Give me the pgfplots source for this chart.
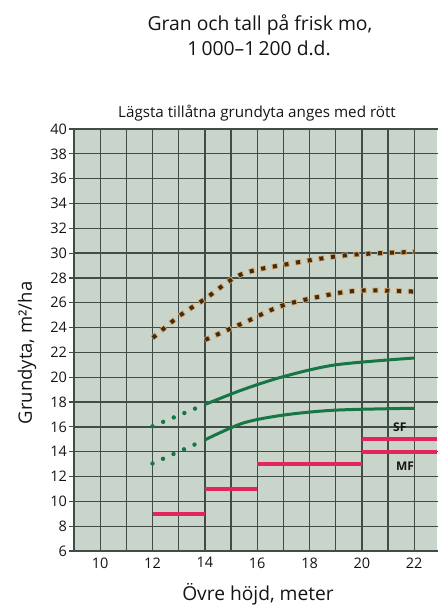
\documentclass[border=0pt]{standalone}
\usepackage{pgfplots}
\pgfplotsset{compat=1.18}
\usepackage{fontspec}
\setmainfont{Open Sans}
\setsansfont{Open Sans}
\definecolor{bg}{RGB}{201,212,203}
\definecolor{gridc}{RGB}{66,76,71}
\definecolor{dbrown}{RGB}{70,42,15}
\definecolor{tan}{RGB}{210,168,108}
\definecolor{grn}{RGB}{22,118,68}
\definecolor{rd}{RGB}{226,38,92}
\definecolor{txt}{RGB}{20,20,20}
\pgfplotstableread{
x y
12 23.15
13 24.9
14 26.3
15.4 28.3
17.4 29.2
19.5 29.85
22 30.1
}\upperbrown
\pgfplotstableread{
x y
14 23.0
15.5 24.4
17 25.8
19 26.75
20.2 27.0
22 26.9
}\lowerbrown
\pgfplotstableread{
x y
14 17.8
15.45 19.0
17 20.05
19 21.0
22 21.55
}\uppergreen
\pgfplotstableread{
x y
12 16.05
14 17.8
}\uppergreendot
\pgfplotstableread{
x y
14 14.95
15.45 16.3
17 16.95
19 17.35
22 17.5
}\lowergreen
\pgfplotstableread{
x y
12 13.05
14 14.95
}\lowergreendot
\begin{document}
\begin{tikzpicture}[x=1pt,y=1pt]
\useasboundingbox (0,0) rectangle (437,608);
\begin{axis}[
  at={(74pt,57pt)}, anchor=south west,
  width=363pt, height=422pt, scale only axis,
  xmin=9, xmax=22.87, ymin=6, ymax=40,
  axis background/.style={fill=bg},
  axis line style={draw=none},
  xtick={9,10,...,22},
  xticklabels={,10,,12,,14,,16,,18,,20,,22},
  ytick={6,8,...,40},
  grid=major,
  major grid style={draw=gridc, line width=1.3pt},
  xtick style={draw=none},
  ytick style={draw=gridc, line width=1.2pt},
  ytick align=outside, major tick length=5pt,
  tick label style={font=\fontsize{14.5}{16}\selectfont, text=txt},
  /pgf/number format/assume math mode=true,
  xticklabel style={yshift=-3pt},
  yticklabel style={xshift=1.5pt},
  clip=false,
]
\addplot[draw=tan, line width=5.4pt, dash pattern=on 6pt off 5.8pt, dash phase=0.5pt, smooth] table[x=x,y=y] {\upperbrown};
\addplot[draw=dbrown, line width=4pt, dash pattern=on 4pt off 7.8pt, dash phase=-0.5pt, smooth] table[x=x,y=y] {\upperbrown};
\addplot[draw=tan, line width=5.4pt, dash pattern=on 6pt off 5.8pt, dash phase=0.5pt, smooth] table[x=x,y=y] {\lowerbrown};
\addplot[draw=dbrown, line width=4pt, dash pattern=on 4pt off 7.8pt, dash phase=-0.5pt, smooth] table[x=x,y=y] {\lowerbrown};
\addplot[draw=grn, line width=3pt, smooth] table[x=x,y=y] {\uppergreen};
\addplot[draw=grn, line width=4.4pt, line cap=round, dash pattern=on 0pt off 11.5pt] table[x=x,y=y] {\uppergreendot};
\addplot[draw=grn, line width=3pt, smooth] table[x=x,y=y] {\lowergreen};
\addplot[draw=grn, line width=4.4pt, line cap=round, dash pattern=on 0pt off 11.5pt] table[x=x,y=y] {\lowergreendot};
\addplot[draw=rd, line width=4pt] coordinates {(12,9) (14,9)};
\addplot[draw=rd, line width=4pt] coordinates {(14,11) (16,11)};
\addplot[draw=rd, line width=4pt] coordinates {(16,13) (20,13)};
\addplot[draw=rd, line width=4pt] coordinates {(20,15) (22.87,15)};
\addplot[draw=rd, line width=4pt] coordinates {(20,14) (22.87,14)};
\node[font=\fontsize{12}{14}\selectfont\bfseries, text=txt] at (axis cs:21.45,16.0) {SF};
\node[font=\fontsize{12}{14}\selectfont\bfseries, text=txt] at (axis cs:21.65,12.85) {MF};
\end{axis}
\node[font=\fontsize{19.3}{22}\selectfont, text=txt] at (260,583) {Gran och tall på frisk mo,};
\node[font=\fontsize{19.3}{22}\selectfont, text=txt] at (259,560) {1\,000–1\,200 d.d.};
\node[font=\fontsize{15.2}{17}\selectfont, text=txt] at (257,495) {Lägsta tillåtna grundyta anges med rött};
\node[font=\fontsize{18.5}{21}\selectfont, text=txt, rotate=90] at (27,255) {Grundyta, m²/ha};
\node[font=\fontsize{19.2}{22}\selectfont, text=txt] at (258,14) {Övre höjd, meter};
\end{tikzpicture}
\end{document}
